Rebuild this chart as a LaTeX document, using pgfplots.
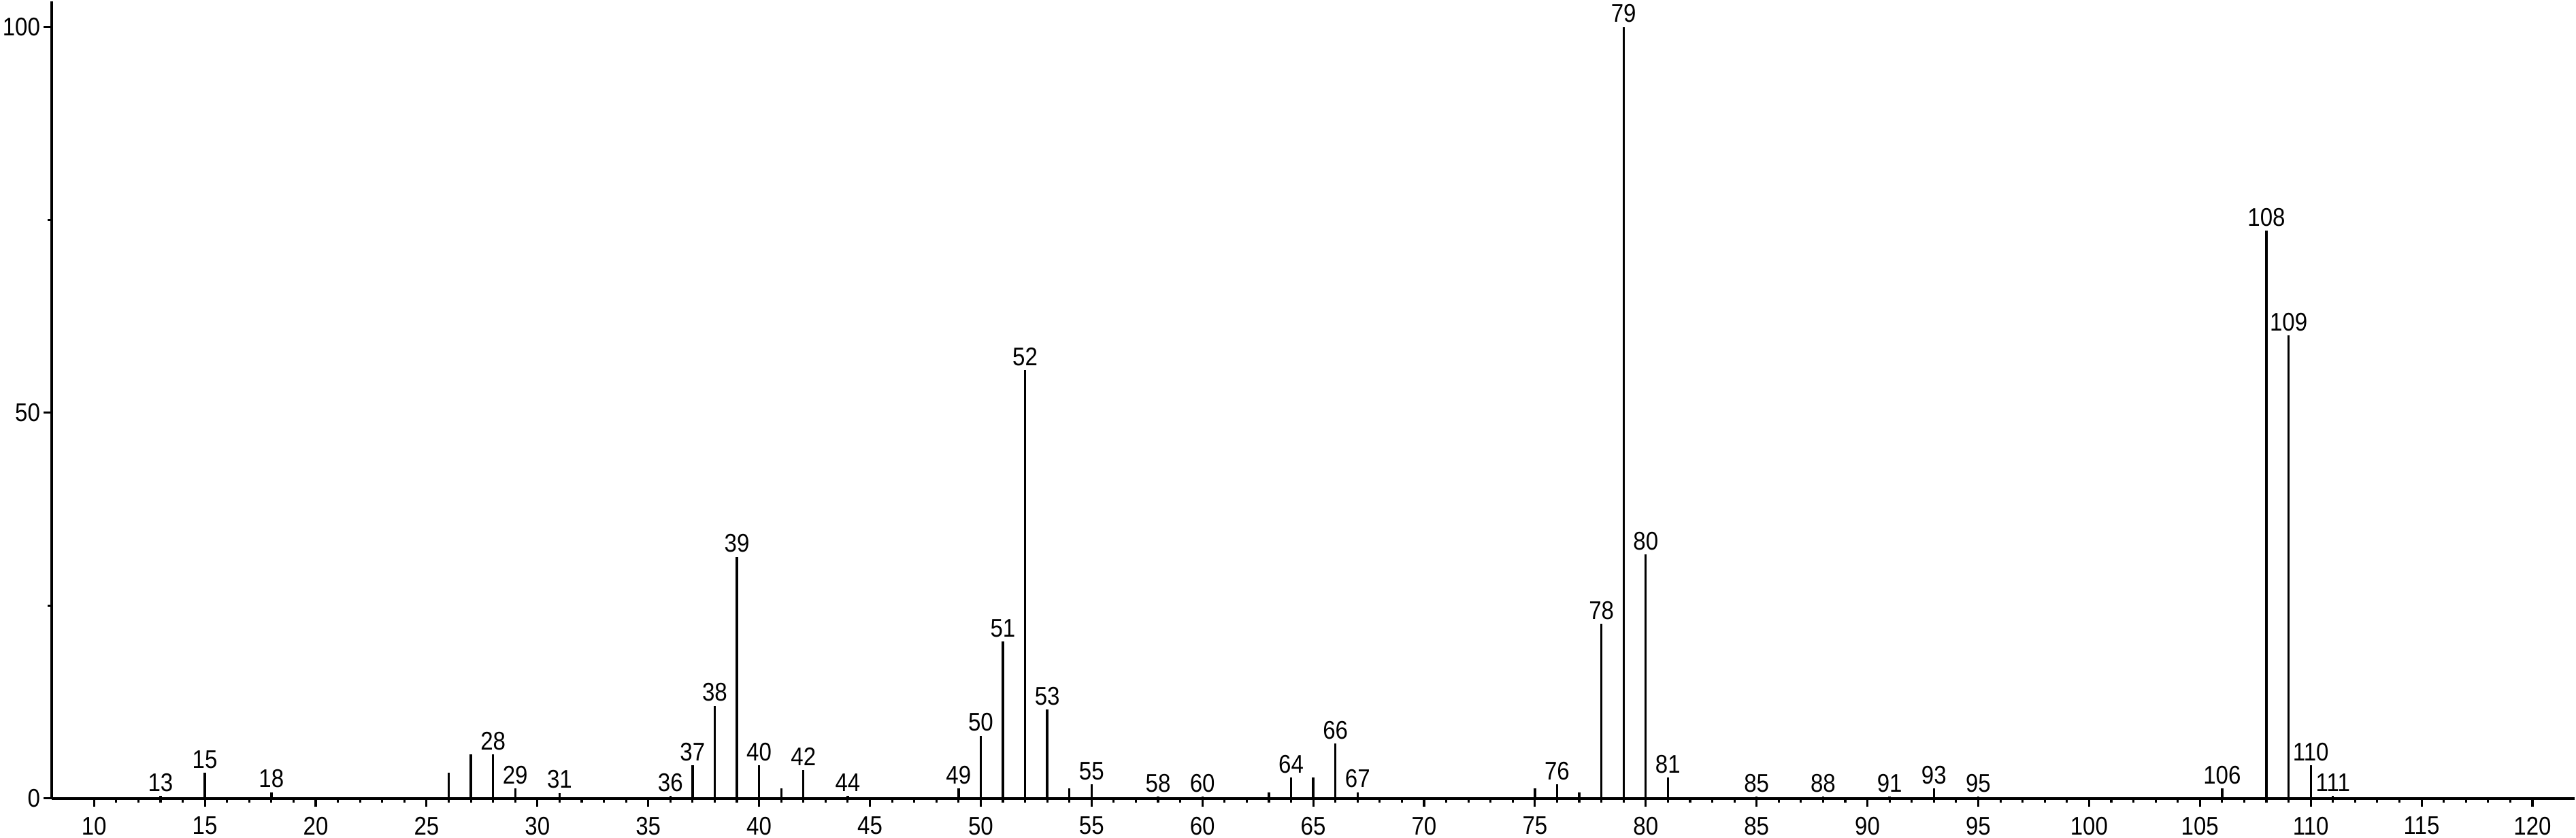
\documentclass[border=0pt]{standalone}
\usepackage{pgfplots}
\pgfplotsset{compat=1.18}
\usepackage{pgfplotstable}
\usepackage{fontspec}
\setmainfont{Liberation Sans}[FakeStretch=0.88]
\pgfplotstableread{
x y
13 0.3
15 3.3
18 0.8
28 5.7
29 1.3
31 0.7
36 0.3
37 4.3
38 12.0
39 31.3
40 4.3
42 3.7
44 0.3
49 1.3
50 8.1
51 20.3
52 55.5
53 11.5
55 1.8
58 0.2
60 0.2
64 2.7
66 7.1
67 0.8
76 1.8
78 22.6
79 100
80 31.6
81 2.7
85 0.2
88 0.2
91 0.2
93 1.3
95 0.2
106 1.3
108 73.6
109 60.0
110 4.3
111 0.3
}\labeled
\pgfplotstableread{
x y
26 3.3
27 5.7
41 1.3
54 1.3
63 0.8
65 2.7
75 1.3
77 0.8
}\unlabeled
\begin{document}
\begin{tikzpicture}
\begin{axis}[
  scale only axis, width=770pt, height=243.3pt,
  xmin=8.1, xmax=121.9, ymin=0, ymax=103.3,
  axis x line=bottom, axis y line=left,
  axis line style={-, line width=0.9pt},
  xtick={10,15,...,120}, minor x tick num=4,
  ytick={0,50,100}, minor y tick num=1,
  tick align=outside, major tick length=2.6pt, minor tick length=1.3pt,
  tick style={black, line width=0.65pt},
  ticklabel style={font=\fontsize{7.8}{9}\selectfont},
  yticklabel style={inner sep=0.8pt},
  xticklabel style={inner sep=0.8pt, yshift=-2.1pt},
  /pgf/number format/assume math mode=true,
  clip=false,
]
\addplot[ycomb, black, line width=0.7pt, mark=none] table[x=x,y=y] {\unlabeled};
\addplot[ycomb, black, line width=0.7pt, mark=none, point meta=x,
  nodes near coords={\pgfmathprintnumber[int detect]{\pgfplotspointmeta}},
  every node near coord/.append style={anchor=south, inner sep=1pt, font=\fontsize{7.8}{9}\selectfont}]
  table[x=x,y=y] {\labeled};
\end{axis}
\end{tikzpicture}
\end{document}
